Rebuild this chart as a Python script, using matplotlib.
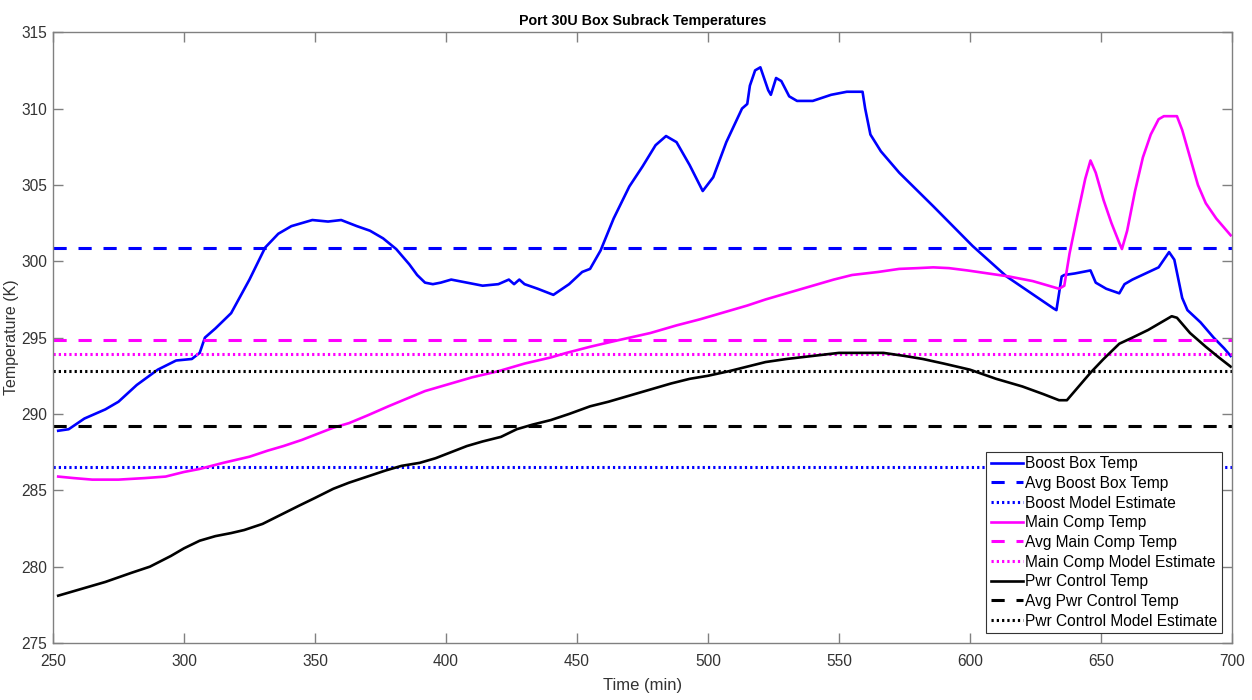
import matplotlib
matplotlib.use("Agg")
import matplotlib.pyplot as plt

plt.rcParams['font.family'] = ['Liberation Sans', 'DejaVu Sans']
plt.rcParams['lines.scale_dashes'] = False

# Boost box temperature (K) vs time (min)
boost_t = [252, 256, 262, 270, 275, 282, 290, 297, 303, 306, 308, 312, 318, 325, 331,
           336, 341, 349, 355, 360, 366, 371, 376, 381, 386, 389, 392, 395, 398, 402,
           408, 414, 420, 424, 426, 428, 430, 435, 441, 447, 452, 455, 459, 464, 470,
           475, 480, 484, 488, 493, 498, 502, 507, 513, 515, 516, 518, 520, 523, 524,
           526, 528, 531, 534, 540, 547, 553, 559, 560, 562, 566, 573, 586, 601, 614,
           632, 633, 635, 636, 640, 646, 648, 652, 657, 659, 662, 667, 672, 676, 678,
           681, 683, 688, 693, 697, 699.5]
boost_T = [288.9, 289.0, 289.7, 290.3, 290.8, 291.9, 292.9, 293.5, 293.6, 294.0, 295.0,
           295.6, 296.6, 298.8, 300.9, 301.8, 302.3, 302.7, 302.6, 302.7, 302.3, 302.0,
           301.5, 300.8, 299.8, 299.1, 298.6, 298.5, 298.6, 298.8, 298.6, 298.4, 298.5,
           298.8, 298.5, 298.8, 298.5, 298.2, 297.8, 298.5, 299.3, 299.5, 300.7, 302.8,
           304.9, 306.2, 307.6, 308.2, 307.8, 306.3, 304.6, 305.5, 307.8, 310.0, 310.3,
           311.5, 312.5, 312.7, 311.2, 310.9, 312.0, 311.8, 310.8, 310.5, 310.5, 310.9,
           311.1, 311.1, 310.0, 308.3, 307.2, 305.8, 303.6, 301.0, 299.0, 296.9, 296.8,
           299.0, 299.1, 299.2, 299.4, 298.6, 298.2, 297.9, 298.5, 298.8, 299.2, 299.6,
           300.6, 300.1, 297.6, 296.8, 296.0, 295.0, 294.3, 293.8]

# Main computer temperature
main_t = [252, 258, 265, 275, 285, 293, 300, 306, 315, 325, 332, 338, 345, 351, 357,
          363, 370, 378, 385, 392, 400, 410, 420, 430, 440, 446, 455, 465, 478, 488,
          497, 505, 515, 522, 530, 540, 548, 555, 565, 573, 580, 586, 592, 599, 607,
          615, 624, 630, 634, 636, 638, 641, 644, 646, 648, 651, 654, 657, 658, 660,
          663, 666, 669, 672, 674, 679, 681, 684, 687, 690, 694, 697, 699.5]
main_T = [285.9, 285.8, 285.7, 285.7, 285.8, 285.9, 286.2, 286.4, 286.8, 287.2, 287.6,
          287.9, 288.3, 288.7, 289.1, 289.4, 289.9, 290.5, 291.0, 291.5, 291.9, 292.4,
          292.8, 293.3, 293.7, 294.0, 294.4, 294.8, 295.3, 295.8, 296.2, 296.6, 297.1,
          297.5, 297.9, 298.4, 298.8, 299.1, 299.3, 299.5, 299.55, 299.6, 299.55, 299.4,
          299.2, 299.0, 298.7, 298.4, 298.2, 298.4, 300.5, 303.0, 305.4, 306.6, 305.8,
          304.0, 302.5, 301.2, 300.8, 302.0, 304.6, 306.8, 308.3, 309.3, 309.5, 309.5,
          308.6, 306.8, 305.0, 303.8, 302.8, 302.2, 301.7]

# Power control temperature
pwr_t = [252, 260, 270, 280, 287, 295, 300, 306, 312, 318, 323, 330, 337, 344, 350,
         357, 363, 370, 377, 383, 390, 396, 402, 408, 414, 421, 427, 433, 440, 447,
         455, 462, 470, 478, 486, 493, 500, 508, 515, 522, 530, 540, 550, 560, 567,
         575, 582, 590, 600, 610, 620, 628, 634, 637, 641, 646, 651, 657, 662, 668,
         673, 677, 679, 684, 690, 695, 699.5]
pwr_T = [278.1, 278.5, 279.0, 279.6, 280.0, 280.7, 281.2, 281.7, 282.0, 282.2, 282.4,
         282.8, 283.4, 284.0, 284.5, 285.1, 285.5, 285.9, 286.3, 286.6, 286.8, 287.1,
         287.5, 287.9, 288.2, 288.5, 289.0, 289.3, 289.6, 290.0, 290.5, 290.8, 291.2,
         291.6, 292.0, 292.3, 292.5, 292.8, 293.1, 293.4, 293.6, 293.8, 294.0, 294.0,
         294.0, 293.8, 293.6, 293.3, 292.9, 292.3, 291.8, 291.3, 290.9, 290.9, 291.7,
         292.7, 293.6, 294.6, 295.0, 295.5, 296.0, 296.4, 296.3, 295.3, 294.4, 293.7,
         293.1]

# averages and model estimates
avg_boost, model_boost = 300.85, 286.5
avg_main, model_main = 294.85, 293.9
avg_pwr, model_pwr = 289.2, 292.8

blue = '#0000ff'
magenta = '#ff00ff'
black = '#000000'
dash = (0, (9.5, 8.5))
dot = (0, (1.6, 2.2))
lw = 1.9

fig = plt.figure(figsize=(12.52, 7), dpi=100)
ax = fig.add_axes([0.0423, 0.0814, 0.9417, 0.8726])

ax.plot(boost_t, boost_T, color=blue, lw=lw, label='Boost Box Temp')
ax.axhline(avg_boost, color=blue, lw=lw + 0.3, linestyle=dash, label='Avg Boost Box Temp')
ax.axhline(model_boost, color=blue, lw=lw + 0.3, linestyle=dot, label='Boost Model Estimate')
ax.plot(main_t, main_T, color=magenta, lw=lw, label='Main Comp Temp')
ax.axhline(avg_main, color=magenta, lw=lw + 0.3, linestyle=dash, label='Avg Main Comp Temp')
ax.axhline(model_main, color=magenta, lw=lw + 0.3, linestyle=dot, label='Main Comp Model Estimate')
ax.plot(pwr_t, pwr_T, color=black, lw=lw, label='Pwr Control Temp')
ax.axhline(avg_pwr, color=black, lw=lw + 0.3, linestyle=dash, label='Avg Pwr Control Temp')
ax.axhline(model_pwr, color=black, lw=lw + 0.3, linestyle=dot, label='Pwr Control Model Estimate')

ax.set_xlim(250, 700)
ax.set_ylim(275, 315)
ax.set_xticks(range(250, 701, 50))
ax.set_yticks(range(275, 316, 5))

for s in ax.spines.values():
    s.set_color('#808080')
    s.set_linewidth(1.0)
ax.tick_params(direction='in', length=7, width=1, color='#808080', labelcolor='#333333',
               labelsize=11.2, top=True, right=True)
ax.tick_params(axis='x', pad=8)
ax.tick_params(axis='y', pad=4)

ax.set_title('Port 30U Box Subrack Temperatures', fontsize=10.3, fontweight='bold', pad=5)
ax.set_xlabel('Time (min)', fontsize=12, color='#333333')
ax.set_ylabel('Temperature (K)', fontsize=11.5, color='#333333')
ax.xaxis.set_label_coords(0.5, -0.058)
ax.yaxis.set_label_coords(-0.0285, 0.5)

leg = ax.legend(loc='lower right', bbox_to_anchor=(0.9915, 0.016), fontsize=11.2,
                frameon=True, fancybox=False, framealpha=1, edgecolor='#333333',
                handlelength=2.1, handletextpad=0.1, labelspacing=0.3,
                borderpad=0.3, borderaxespad=0)
leg.get_frame().set_linewidth(0.8)

fig.savefig('out.png', dpi=100)
